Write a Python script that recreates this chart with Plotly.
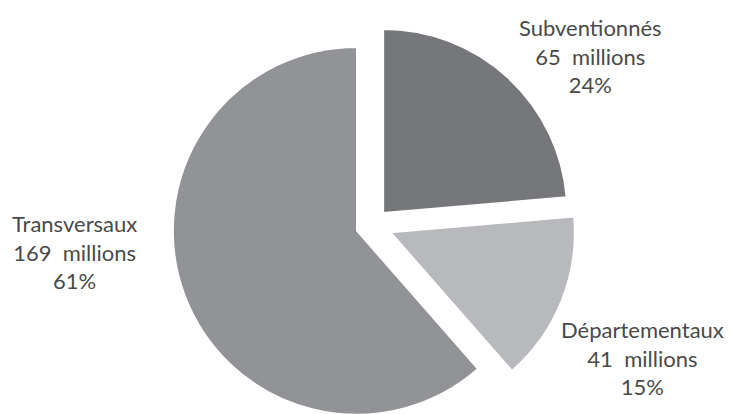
import plotly.graph_objects as go

categories = ["Subventionnés", "Départementaux", "Transversaux"]
values_millions = [65, 41, 169]
percent_labels = ["24%", "15%", "61%"]
colors = ["#76777b", "#b8b9bc", "#929397"]
pulls = [0.09, 0.11, 0.09]

# label anchor positions (paper coords) for each category
label_x = [0.807, 0.878, 0.102]
label_y = [0.875, 0.205, 0.44]

W, H = 732, 450

fig = go.Figure(
    go.Pie(
        labels=categories,
        values=values_millions,
        sort=False,
        direction="clockwise",
        rotation=0,
        pull=pulls,
        marker=dict(colors=colors, line=dict(color="#ffffff", width=1.5)),
        textinfo="none",
        hoverinfo="label+value+percent",
        showlegend=False,
        domain=dict(x=[0.230, 0.787], y=[0.047, 0.953]),
    )
)

for cat, v, p, x, y in zip(categories, values_millions, percent_labels, label_x, label_y):
    fig.add_annotation(
        x=x, y=y, xref="paper", yref="paper",
        text=f"{cat}<br>{v}  millions<br>{p}",
        showarrow=False, align="center",
        xanchor="center", yanchor="middle",
        font=dict(family="Lato", size=22, color="#4a4a4a"),
    )

fig.update_layout(
    width=W, height=H,
    margin=dict(l=0, r=0, t=0, b=0),
    paper_bgcolor="#ffffff",
    plot_bgcolor="#ffffff",
)

fig.write_html(
    "out.html",
    config={"displayModeBar": False},
    post_script="document.body.style.margin='0';document.body.style.overflow='hidden';document.documentElement.style.overflow='hidden';",
)
